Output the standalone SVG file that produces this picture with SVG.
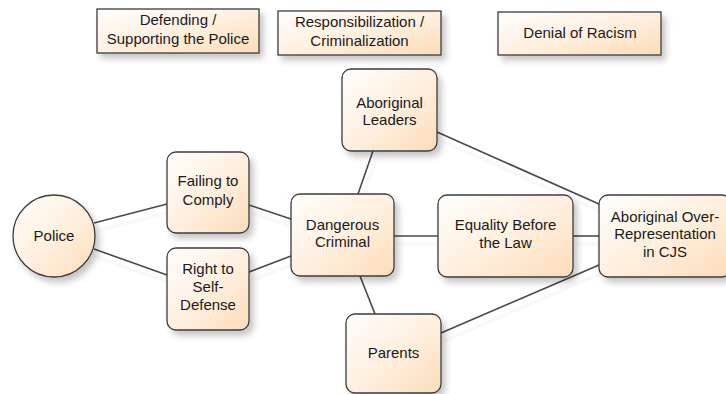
<svg xmlns="http://www.w3.org/2000/svg" width="726" height="394" viewBox="0 0 726 394">
<defs>
<linearGradient id="g" x1="0" y1="0" x2="1" y2="1">
<stop offset="0" stop-color="#fffefc"/>
<stop offset="0.5" stop-color="#fff0e0"/>
<stop offset="1" stop-color="#fcdcb8"/>
</linearGradient>
<filter id="sh" x="-20%" y="-20%" width="150%" height="150%">
<feDropShadow dx="4" dy="5" stdDeviation="3" flood-color="#000" flood-opacity="0.22"/>
</filter>
<filter id="lsh" x="-10%" y="-10%" width="130%" height="140%">
<feDropShadow dx="3" dy="8" stdDeviation="1.2" flood-color="#000" flood-opacity="0.06"/>
</filter>
</defs>
<style>
.n{fill:url(#g);stroke:#3c3c3c;stroke-width:1.3;filter:url(#sh)}
.c line{stroke:#4a4a4a;stroke-width:1.6}
text{font-family:"Liberation Sans",Arial,sans-serif;font-size:15px;fill:#1a1a1a;text-anchor:middle}
</style>
<rect width="726" height="394" fill="#fff"/>
<g id="connectors" class="c" filter="url(#lsh)">
<line x1="94" y1="223" x2="167" y2="204"/>
<line x1="94" y1="249" x2="167" y2="275"/>
<line x1="249" y1="205" x2="291" y2="219"/>
<line x1="249" y1="272" x2="291" y2="256"/>
<line x1="358" y1="194" x2="373" y2="151"/>
<line x1="360" y1="276" x2="375" y2="314"/>
<line x1="394" y1="236" x2="438" y2="236"/>
<line x1="573" y1="236" x2="599" y2="236"/>
<line x1="437" y1="132" x2="599" y2="204"/>
<line x1="441" y1="333" x2="599" y2="265"/>
</g>
<g id="label-defending">
<rect class="n" x="97" y="9" width="162" height="44"/>
<text x="178" y="25">Defending /</text>
<text x="178" y="44">Supporting the Police</text>
</g>
<g id="label-responsibilization">
<rect class="n" x="278" y="11" width="163" height="44"/>
<text x="359.5" y="27">Responsibilization /</text>
<text x="359.5" y="46">Criminalization</text>
</g>
<g id="label-denial">
<rect class="n" x="498" y="12" width="163" height="43"/>
<text x="580" y="38">Denial of Racism</text>
</g>
<g id="police">
<circle class="n" cx="54" cy="236" r="41"/>
<text x="54" y="241">Police</text>
</g>
<g id="failing">
<rect class="n" x="167" y="152" width="82" height="81" rx="9"/>
<text x="208" y="186">Failing to</text>
<text x="208" y="205">Comply</text>
</g>
<g id="right">
<rect class="n" x="167" y="248" width="82" height="82" rx="9"/>
<text x="208" y="274">Right to</text>
<text x="208" y="292">Self-</text>
<text x="208" y="310">Defense</text>
</g>
<g id="dangerous">
<rect class="n" x="291" y="194" width="103" height="82" rx="9"/>
<text x="342.5" y="230">Dangerous</text>
<text x="342.5" y="247">Criminal</text>
</g>
<g id="leaders">
<rect class="n" x="342" y="69" width="95" height="82" rx="9"/>
<text x="389.5" y="108">Aboriginal</text>
<text x="389.5" y="125">Leaders</text>
</g>
<g id="parents">
<rect class="n" x="346" y="314" width="95" height="79" rx="9"/>
<text x="393.5" y="358">Parents</text>
</g>
<g id="equality">
<rect class="n" x="438" y="195" width="135" height="82" rx="9"/>
<text x="505.5" y="230">Equality Before</text>
<text x="505.5" y="248">the Law</text>
</g>
<g id="overrep">
<rect class="n" x="599" y="195" width="132" height="82" rx="9"/>
<text x="665" y="222">Aboriginal Over-</text>
<text x="665" y="239">Representation</text>
<text x="665" y="257">in CJS</text>
</g>
</svg>
